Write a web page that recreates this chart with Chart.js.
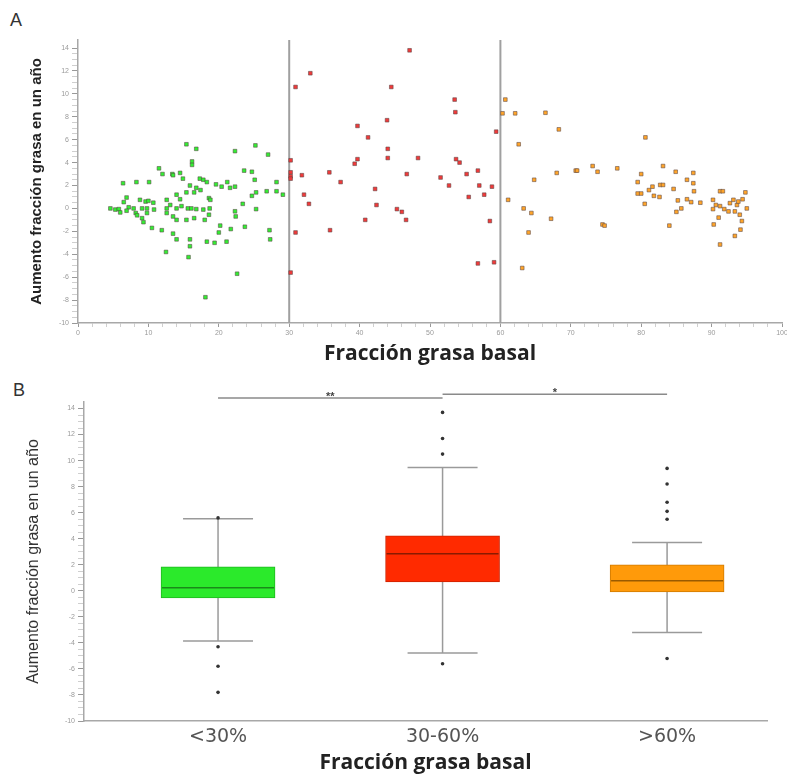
<!DOCTYPE html>
<html>
<head>
<meta charset="utf-8">
<script src="https://cdn.jsdelivr.net/npm/chart.js@4/dist/chart.umd.min.js"></script>
<style>
  body { margin: 0; background: #fff; }
  #wrap { position: relative; width: 787px; height: 774px; }
  canvas { position: absolute; left: 0; }
  .tag { position: absolute; font: 18px "Liberation Sans", Arial, sans-serif; color: #333; }
</style>
</head>
<body>
<div id="wrap">
  <div class="tag" style="left:10px; top:10px;">A</div>
  <div class="tag" style="left:13px; top:380px;">B</div>
  <canvas id="chartA" width="787" height="372" style="top:0"></canvas>
  <canvas id="chartB" width="787" height="402" style="top:372px"></canvas>
</div>
<script>
// panel A: fraccion grasa basal (x) vs aumento en un año (y)
const lowX = [15.4,16.8,22.3,25.2,27.0,16.2,16.2,23.6,24.7,11.5,12.0,13.4,13.5,14.5,14.9,17.3,17.8,25.1,28.2,6.4,8.3,10.1,18.3,19.6,21.2,20.4,21.6,22.3,15.9,16.8,15.4,16.5,17.4,25.3,26.8,28.2,29.1,14.0,14.5,18.6,18.8,24.7,23.4,6.9,6.5,8.8,9.6,10.0,10.7,12.6,13.1,12.6,4.6,5.3,5.8,7.2,7.9,9.1,9.8,10.8,14.0,14.7,15.6,16.1,16.8,17.8,18.7,6.0,6.9,8.2,8.4,9.1,9.8,12.6,13.5,14.0,15.4,16.5,18.0,18.6,22.3,22.4,25.3,9.3,10.5,11.9,13.5,14.0,15.9,15.9,18.3,19.4,20.2,20.0,21.1,21.7,23.7,27.2,27.3,12.5,15.7,22.6,18.1];
const lowY = [5.6,5.2,5.0,5.5,4.7,4.1,3.8,3.3,3.2,3.5,3.0,3.0,2.9,3.1,2.6,2.6,2.5,2.5,2.3,2.2,2.3,2.3,2.3,2.1,2.3,1.9,1.8,1.9,2.0,1.8,1.4,1.4,1.6,1.4,1.5,1.5,1.2,1.2,0.8,0.9,0.75,1.1,0.4,0.95,0.55,0.75,0.6,0.66,0.5,0.75,0.3,0.0,0.0,-0.1,-0.06,0.1,0.0,0.0,0.0,-0.1,0.0,0.2,0.0,0.0,-0.06,-0.1,0.0,-0.35,-0.2,-0.4,-0.6,-0.85,-0.4,-0.4,-0.7,-1.0,-1.0,-0.85,-1.0,-0.55,-0.25,-0.7,-0.06,-1.2,-1.7,-1.9,-2.2,-2.7,-2.7,-3.3,-2.9,-3.0,-1.5,-2.1,-2.9,-1.8,-1.6,-1.9,-2.7,-3.8,-4.25,-5.7,-7.75];

const midX = [47.1,33.0,30.9,44.5,53.5,53.6,43.9,39.7,41.2,59.4,44.0,30.2,39.3,39.7,44.0,48.3,53.7,54.2,30.2,30.2,30.2,31.8,35.7,37.3,46.7,51.5,55.2,56.8,52.7,57.0,58.8,32.1,32.8,42.2,42.4,55.5,57.7,45.3,46.0,40.8,46.6,58.5,35.8,30.9,56.8,59.1,30.2];
const midY = [13.8,11.8,10.6,10.6,9.5,8.4,7.7,7.2,6.2,6.7,5.2,4.2,3.9,4.3,4.4,4.4,4.3,4.0,3.15,2.8,2.6,2.9,3.15,2.3,3.0,2.7,3.0,3.3,2.0,2.0,1.9,1.2,0.4,1.7,0.3,1.0,1.2,-0.06,-0.3,-1.0,-1.0,-1.1,-1.9,-2.1,-4.8,-4.7,-5.6];

const highX = [60.7,60.3,62.1,66.4,68.3,62.6,80.6,64.8,68.0,70.7,70.9,73.1,73.8,76.6,61.1,63.3,64.4,67.2,64.0,74.5,74.8,63.1,80.0,79.5,79.5,80.0,80.5,81.1,81.6,81.8,82.7,83.1,83.1,82.6,84.9,84.6,85.2,85.7,85.0,84.0,86.5,86.5,87.4,87.4,87.5,87.1,88.4,90.2,91.2,91.6,90.6,91.2,90.2,91.8,91.0,90.3,91.2,92.4,92.6,93.1,93.6,93.8,93.3,94.0,94.3,94.1,93.3,94.8,95.0,94.4];
const highY = [9.5,8.3,8.3,8.35,6.9,5.6,6.2,2.5,3.1,3.3,3.3,3.7,3.2,3.5,0.75,0.0,-0.4,-0.9,-2.1,-1.4,-1.5,-5.2,3.0,2.3,1.3,1.3,0.4,1.6,1.9,1.1,2.05,2.05,3.7,1.0,3.2,1.7,0.7,0.0,-0.3,-1.5,2.5,0.8,3.1,2.2,1.5,0.55,0.5,0.75,1.5,1.5,0.3,0.2,-0.06,-0.06,-0.8,-1.4,-3.15,-0.26,0.46,0.75,0.3,0.6,-0.26,-0.55,-1.1,-1.85,-2.4,1.4,0.0,0.8];

const cutoffs = [30, 60];

// panel B: boxplots by group
const groups = ['<30%', '30-60%', '>60%'];
const q1 = [-0.54, 0.69, -0.08];
const q3 = [1.85, 4.23, 2.0];
const medians = [0.23, 2.85, 0.77];
const whiskerLow = [-3.85, -4.77, -3.2];
const whiskerHigh = [5.54, 9.46, 3.7];
const outliers = [
  [5.6, -4.3, -5.8, -7.8],
  [13.7, 11.7, 10.5, -5.6],
  [9.4, 8.2, 6.8, 6.1, 5.5, -5.2]
];
const sigPairs = [[1, 2, '**'], [2, 3, '*']];
const sigLevels = [14.8, 15.1];

const boxColors = ['#2bea2b', '#ff2a00', '#ff9a0a'];
const boxEdges = ['#1fb81f', '#cc2200', '#d07a00'];
const medianColors = ['#1a8a1a', '#8a1a00', '#9a5a00'];

const yTicks = [];
for (let v = -10; v <= 14; v += 0.5) yTicks.push(v);
const xTicksA = [];
for (let v = 0; v <= 100; v += 2) xTicksA.push(v);

function pairs(xs, ys) {
  return xs.map((x, i) => ({ x: x, y: ys[i] }));
}

const tickFont = { family: 'Liberation Sans', size: 7 };
const axisGray = '#a8a8a8';

function fixSize(prop, size) {
  return function(scale) {
    scale[prop] = size;
    scale.paddingLeft = 0; scale.paddingRight = 0;
    scale.paddingTop = 0; scale.paddingBottom = 0;
  };
}

function yAxis(width, titleOpts, max) {
  return {
    min: -10,
    max: max,
    afterFit: fixSize('width', width),
    afterBuildTicks: s => { s.ticks = yTicks.map(v => ({ value: v })); },
    ticks: {
      autoSkip: false,
      font: tickFont,
      color: '#9a9a9a',
      padding: 3,
      callback: v => (v % 2 === 0 ? String(v) : '')
    },
    grid: {
      drawOnChartArea: false,
      tickLength: 6,
      tickColor: ctx => (ctx.tick && ctx.tick.value % 2 === 0 ? '#999' : '#cfcfcf')
    },
    border: { color: axisGray, width: 1.5 },
    title: titleOpts
  };
}

const cutLines = {
  id: 'cutLines',
  beforeDatasetsDraw(chart) {
    const { ctx, chartArea, scales } = chart;
    ctx.save();
    ctx.strokeStyle = '#a0a0a0';
    ctx.lineWidth = 2;
    cutoffs.forEach(c => {
      const px = scales.x.getPixelForValue(c);
      ctx.beginPath();
      ctx.moveTo(px, chartArea.top);
      ctx.lineTo(px, chartArea.bottom);
      ctx.stroke();
    });
    ctx.restore();
  }
};

const pointStyleOf = color => ({
  pointStyle: 'rect',
  pointRadius: 2.6,
  backgroundColor: color,
  borderColor: 'rgba(90,70,70,0.55)',
  borderWidth: 1
});

new Chart(document.getElementById('chartA'), {
  type: 'scatter',
  data: {
    datasets: [
      Object.assign({ label: '<30%', data: pairs(lowX, lowY) }, pointStyleOf('#33ee33')),
      Object.assign({ label: '30-60%', data: pairs(midX, midY) }, pointStyleOf('#f03a3a')),
      Object.assign({ label: '>60%', data: pairs(highX, highY) }, pointStyleOf('#ffa52a'))
    ]
  },
  options: {
    responsive: false,
    animation: false,
    layout: { padding: { left: 0, right: 2, top: 40, bottom: 0 } },
    plugins: { legend: { display: false }, tooltip: { enabled: false } },
    scales: {
      x: {
        type: 'linear',
        min: 0,
        max: 100,
        afterFit: fixSize('height', 49),
        afterBuildTicks: s => { s.ticks = xTicksA.map(v => ({ value: v })); },
        ticks: {
          autoSkip: false,
          maxRotation: 0,
          font: tickFont,
          color: '#9a9a9a',
          padding: 2,
          callback: v => (v % 10 === 0 ? String(v) : '')
        },
        grid: {
          drawOnChartArea: false,
          tickLength: 4,
          tickColor: ctx => (ctx.tick && ctx.tick.value % 10 === 0 ? '#999' : '#cfcfcf')
        },
        border: { color: axisGray, width: 1.5 },
        title: {
          display: true,
          text: 'Fracción grasa basal',
          color: '#222',
          font: { family: 'Open Sans', size: 21, weight: 'bold', lineHeight: 1 },
          padding: { top: 0, bottom: 7 }
        }
      },
      y: yAxis(78, {
        display: true,
        text: 'Aumento fracción grasa en un año',
        color: '#222',
        font: { family: 'Liberation Sans Narrow, Liberation Sans', size: 15, weight: 'bold', lineHeight: 1 },
        padding: { top: 29, bottom: 0 }
      }, 14.7)
    }
  },
  plugins: [cutLines]
});

// whiskers, medians and significance brackets for panel B
const boxExtras = {
  id: 'boxExtras',
  beforeDatasetsDraw(chart) {
    const { ctx, scales } = chart;
    const xs = scales.x, ys = scales.y;
    ctx.save();
    ctx.strokeStyle = '#9a9a9a';
    ctx.lineWidth = 1.5;
    groups.forEach((g, i) => {
      const cx = xs.getPixelForValue(i + 1);
      const lo = ys.getPixelForValue(whiskerLow[i]);
      const hi = ys.getPixelForValue(whiskerHigh[i]);
      ctx.beginPath();
      ctx.moveTo(cx, lo); ctx.lineTo(cx, hi);
      ctx.moveTo(cx - 35, lo); ctx.lineTo(cx + 35, lo);
      ctx.moveTo(cx - 35, hi); ctx.lineTo(cx + 35, hi);
      ctx.stroke();
    });
    ctx.restore();
  },
  afterDatasetsDraw(chart) {
    const { ctx, scales } = chart;
    const xs = scales.x, ys = scales.y;
    ctx.save();
    ctx.lineWidth = 1.5;
    groups.forEach((g, i) => {
      const cx = xs.getPixelForValue(i + 1);
      const m = ys.getPixelForValue(medians[i]);
      ctx.strokeStyle = medianColors[i];
      ctx.beginPath();
      ctx.moveTo(cx - 56, m); ctx.lineTo(cx + 56, m);
      ctx.stroke();
    });
    ctx.strokeStyle = '#8a8a8a';
    ctx.fillStyle = '#444';
    ctx.font = 'bold 11px "Liberation Sans"';
    ctx.textAlign = 'center';
    sigPairs.forEach((p, i) => {
      const a = xs.getPixelForValue(p[0]);
      const b = xs.getPixelForValue(p[1]);
      const y = ys.getPixelForValue(sigLevels[i]);
      ctx.beginPath();
      ctx.moveTo(a, y); ctx.lineTo(b, y);
      ctx.stroke();
      ctx.fillText(p[2], xs.getPixelForValue((p[0] + p[1]) / 2), y + 2);
    });
    ctx.restore();
  }
};

const outlierPoints = [];
outliers.forEach((arr, i) => arr.forEach(v => outlierPoints.push({ x: i + 1, y: v })));

new Chart(document.getElementById('chartB'), {
  type: 'bar',
  data: {
    datasets: [
      {
        type: 'scatter',
        label: 'outliers',
        data: outlierPoints,
        pointRadius: 1.8,
        backgroundColor: '#333',
        borderColor: '#333',
        borderWidth: 0,
        order: 0
      },
      {
        type: 'bar',
        label: 'IQR',
        data: groups.map((g, i) => ({ x: i + 1, y: [q1[i], q3[i]] })),
        backgroundColor: boxColors,
        borderColor: boxEdges,
        borderWidth: 1,
        borderSkipped: false,
        barThickness: 114,
        order: 1
      }
    ]
  },
  options: {
    responsive: false,
    animation: false,
    layout: { padding: { left: 0, right: 20, top: 30, bottom: 0 } },
    plugins: { legend: { display: false }, tooltip: { enabled: false } },
    scales: {
      x: {
        type: 'linear',
        offset: false,
        min: 0.403,
        max: 3.445,
        afterFit: fixSize('height', 53),
        afterBuildTicks: s => { s.ticks = groups.map((g, i) => ({ value: i + 1 })); },
        ticks: {
          autoSkip: false,
          maxRotation: 0,
          font: { family: 'DejaVu Sans', size: 19 },
          color: '#555',
          padding: 5,
          callback: v => groups[v - 1] || ''
        },
        grid: { drawOnChartArea: false, drawTicks: false, offset: false },
        border: { color: axisGray, width: 1.5 },
        title: {
          display: true,
          text: 'Fracción grasa basal',
          color: '#222',
          font: { family: 'Open Sans', size: 21, weight: 'bold', lineHeight: 1 },
          padding: { top: 0, bottom: 0 }
        }
      },
      y: yAxis(84, {
        display: true,
        text: 'Aumento fracción grasa en un año',
        color: '#333',
        font: { family: 'Liberation Sans Narrow, Liberation Sans', size: 16, lineHeight: 1 },
        padding: { top: 26, bottom: 0 }
      }, 14.5)
    }
  },
  plugins: [boxExtras]
});
</script>
</body>
</html>
